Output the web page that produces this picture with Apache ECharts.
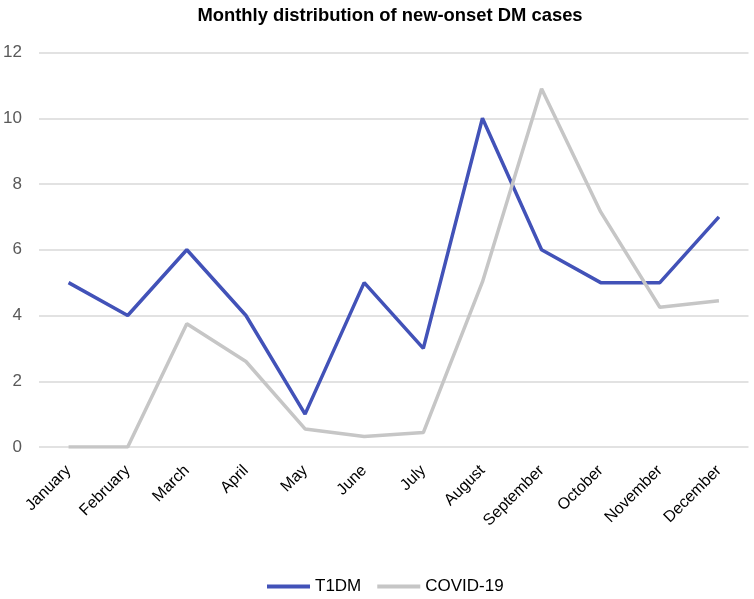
<!DOCTYPE html>
<html>
<head>
<meta charset="utf-8">
<script src="https://cdn.jsdelivr.net/npm/echarts@6/dist/echarts.min.js"></script>
<style>
html,body{margin:0;padding:0;background:#fff;}
#chart{width:754px;height:599px;}
</style>
</head>
<body>
<div id="chart"></div>
<script>
var months = ["January","February","March","April","May","June","July","August","September","October","November","December"];
var t1dm = [5,4,6,4,1,5,3,10,6,5,5,7];
var covid = [0,0,3.75,2.6,0.55,0.32,0.44,5.02,10.9,7.15,4.25,4.45];
var yTicks = {min:0, max:12, interval:2};

var chart = echarts.init(document.getElementById('chart'), null, {renderer:'canvas'});
chart.setOption({
  animation:false,
  backgroundColor:'#ffffff',
  title:{
    text:'Monthly distribution of new-onset DM cases',
    left:385, top:2, textAlign:'center',
    textStyle:{fontFamily:'Liberation Sans, Arial, sans-serif', fontSize:18.4, fontWeight:'bold', color:'#000'}
  },
  legend:{
    left:267, top:578, padding:0,
    icon:'rect', itemWidth:43, itemHeight:4, itemGap:16,
    textStyle:{fontFamily:'Liberation Sans, Arial, sans-serif', fontSize:17, color:'#000'},
    data:['T1DM','COVID-19']
  },
  grid:{left:39, right:5.5, top:52.5, bottom:152, containLabel:false},
  xAxis:{
    type:'category', data:months, boundaryGap:true,
    axisLine:{show:false}, axisTick:{show:false},
    axisLabel:{rotate:45, margin:21, interval:0, fontFamily:'Liberation Sans, Arial, sans-serif', fontSize:16, color:'#000'}
  },
  yAxis:{
    type:'value', min:yTicks.min, max:yTicks.max, interval:yTicks.interval,
    axisLine:{show:false}, axisTick:{show:false},
    splitLine:{lineStyle:{color:'#d9d9d9', width:1.5}},
    axisLabel:{margin:17, fontFamily:'Liberation Sans, Arial, sans-serif', fontSize:17, color:'#595959'}
  },
  series:[
    {name:'T1DM', type:'line', data:t1dm, symbol:'none', color:'#4252b8', lineStyle:{width:3.5, color:'#4252b8'}},
    {name:'COVID-19', type:'line', data:covid, symbol:'none', color:'#c6c6c6', lineStyle:{width:3.5, color:'#c6c6c6'}}
  ]
});
</script>
</body>
</html>
